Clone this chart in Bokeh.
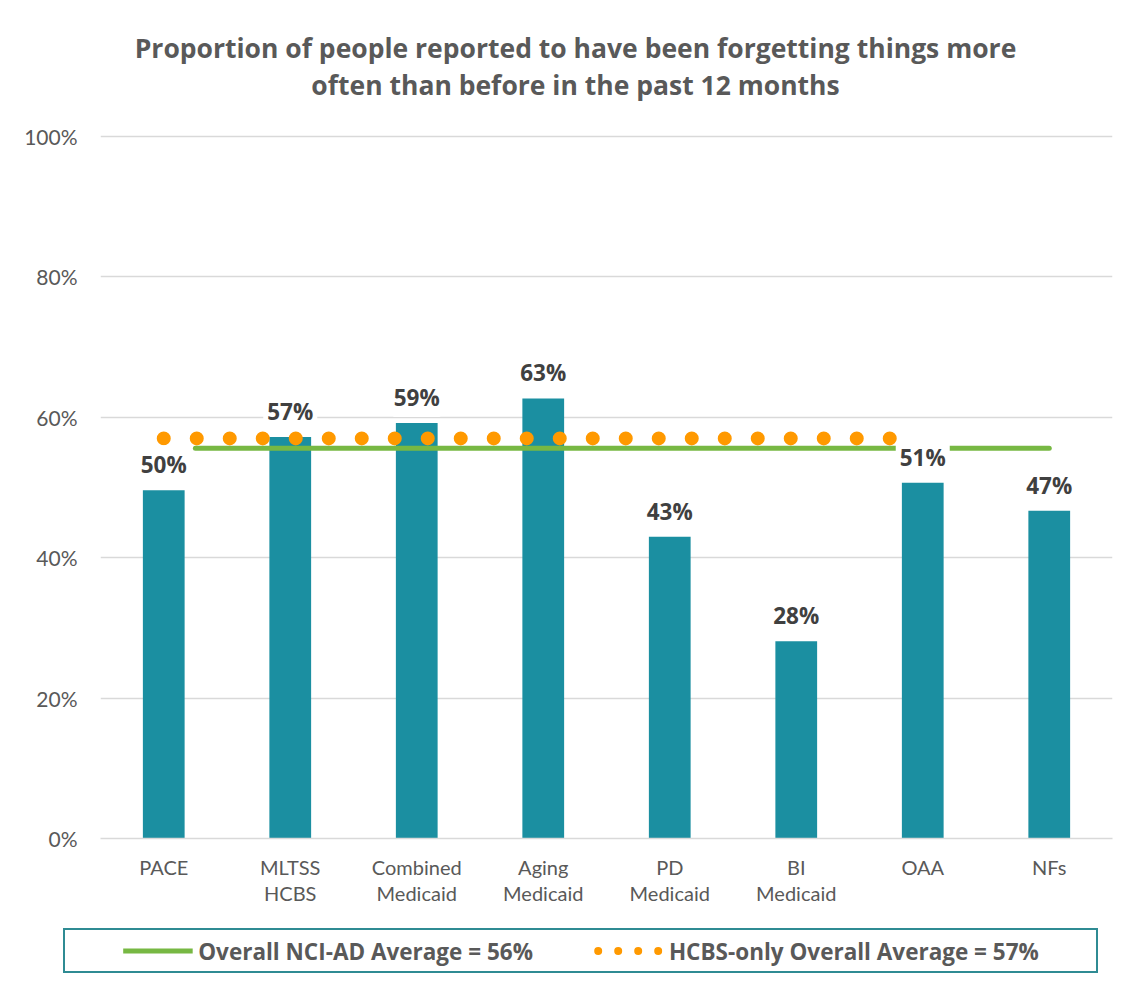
from bokeh.plotting import figure
from bokeh.models import (FactorRange, Range1d, FixedTicker, PrintfTickFormatter,
                          ColumnDataSource, LabelSet, Legend, LegendItem, Label)
from bokeh.core.properties import value
from bokeh.embed import file_html
from bokeh.resources import INLINE

# ---------------- data ----------------
categories = ["PACE", "MLTSS\nHCBS", "Combined\nMedicaid", "Aging\nMedicaid",
              "PD\nMedicaid", "BI\nMedicaid", "OAA", "NFs"]
values = [49.6, 57.2, 59.2, 62.7, 43.0, 28.1, 50.7, 46.7]
bar_labels = ["50%", "57%", "59%", "63%", "43%", "28%", "51%", "47%"]

overall_avg = 55.6
overall_span = [0.75, 7.5]        # category units (synthetic coordinates)
hcbs_avg = 57.0
hcbs_span = [0.5, 6.3]

y_ticks = [0, 20, 40, 60, 80, 100]
title_lines = ["Proportion of people reported to have been forgetting things more",
               "often than before in the past 12 months"]
legend_labels = ["Overall NCI-AD Average = 56%", "HCBS-only Overall Average = 57%"]

BAR = "#1b8fa1"
GREEN = "#77b843"
ORANGE = "#ff9900"
GRID = "#d9d9d9"
TXT = "#595959"
LBL = "#404040"
FONT = "Lato"
BOLD_FONT = "Open Sans"

# ---------------- title block ----------------
tf = figure(width=1136, height=110, x_range=Range1d(0, 1136), y_range=Range1d(110, 0),
            output_backend="svg", toolbar_location=None, min_border=0)
tf.axis.visible = False
tf.grid.visible = False
tf.outline_line_color = None
for i, line in enumerate(title_lines):
    tf.add_layout(Label(x=575, y=47 + 37 * i, text=line, text_align="center",
                        text_baseline="middle", text_font=BOLD_FONT,
                        text_font_size="26.5px", text_font_style="bold",
                        text_color=TXT))

# ---------------- main figure ----------------
p = figure(x_range=FactorRange(*categories), y_range=Range1d(0, 100.3),
           frame_width=1012, frame_height=704, output_backend="svg",
           toolbar_location=None,
           min_border_left=100, min_border_right=24, min_border_top=24,
           min_border_bottom=80)
p.outline_line_color = None
p.background_fill_color = "white"
p.border_fill_color = "white"

src = ColumnDataSource(dict(x=categories, top=values, label=bar_labels))
p.vbar(x="x", top="top", width=0.33, source=src, color=BAR, line_color=None)

p.line(x=hcbs_span, y=[hcbs_avg, hcbs_avg], line_color=ORANGE, line_width=14,
       line_dash="0 33", line_cap="round")
p.line(x=overall_span, y=[overall_avg, overall_avg], line_color=GREEN,
       line_width=5, line_cap="round")

labels = LabelSet(x="x", y="top", text="label", source=src, text_align="center",
                  text_baseline="alphabetic", y_offset=17,
                  text_font=value(BOLD_FONT), text_font_size="22.5px",
                  text_font_style="bold", text_color=LBL,
                  background_fill_color="white", border_line_color="white",
                  border_line_width=8)
p.add_layout(labels)

p.xgrid.grid_line_color = None
p.ygrid.grid_line_color = GRID
p.ygrid.grid_line_width = 1.5
p.ygrid.ticker = FixedTicker(ticks=y_ticks)

p.yaxis.ticker = FixedTicker(ticks=y_ticks)
p.yaxis.formatter = PrintfTickFormatter(format="%d%%")
p.yaxis.axis_line_color = None
p.yaxis.major_tick_line_color = None
p.yaxis.minor_tick_line_color = None
p.yaxis.major_label_standoff = 17
p.yaxis.major_label_text_font = FONT
p.yaxis.major_label_text_font_size = "21px"
p.yaxis.major_label_text_color = TXT

p.xaxis.axis_line_color = GRID
p.xaxis.axis_line_width = 1.5
p.xaxis.major_tick_line_color = None
p.xaxis.minor_tick_line_color = None
p.xaxis.major_label_standoff = 10
p.xaxis.major_label_text_font = FONT
p.xaxis.major_label_text_font_size = "20px"
p.xaxis.major_label_text_color = TXT
p.xaxis.major_label_text_line_height = 1.1

# ---------------- legend box ----------------
lg = figure(width=1035, height=45, output_backend="svg", toolbar_location=None,
            x_range=Range1d(0, 1), y_range=Range1d(0, 1), min_border=0)
lg.axis.visible = False
lg.grid.visible = False
lg.outline_line_color = "#2f8b93"
lg.outline_line_width = 3
lg.margin = (10, 0, 0, 63)

r1 = lg.line(x=[-5, -4], y=[-5, -5], line_color=GREEN, line_width=5)
r2 = lg.line(x=[-5, -4], y=[-5, -5], line_color=ORANGE, line_width=8,
             line_dash="0 20", line_dash_offset=-5, line_cap="round")
legend = Legend(items=[LegendItem(label=legend_labels[0], renderers=[r1]),
                       LegendItem(label=legend_labels[1], renderers=[r2])],
                location="center", orientation="horizontal",
                border_line_color=None, background_fill_alpha=0,
                glyph_width=70, glyph_height=20, spacing=60, label_standoff=6,
                label_text_font=BOLD_FONT, label_text_font_size="22.5px",
                label_text_font_style="bold", label_text_color=TXT,
                padding=0, margin=0)
lg.add_layout(legend)

open("out.html", "w").write(file_html([tf, p, lg], INLINE))
